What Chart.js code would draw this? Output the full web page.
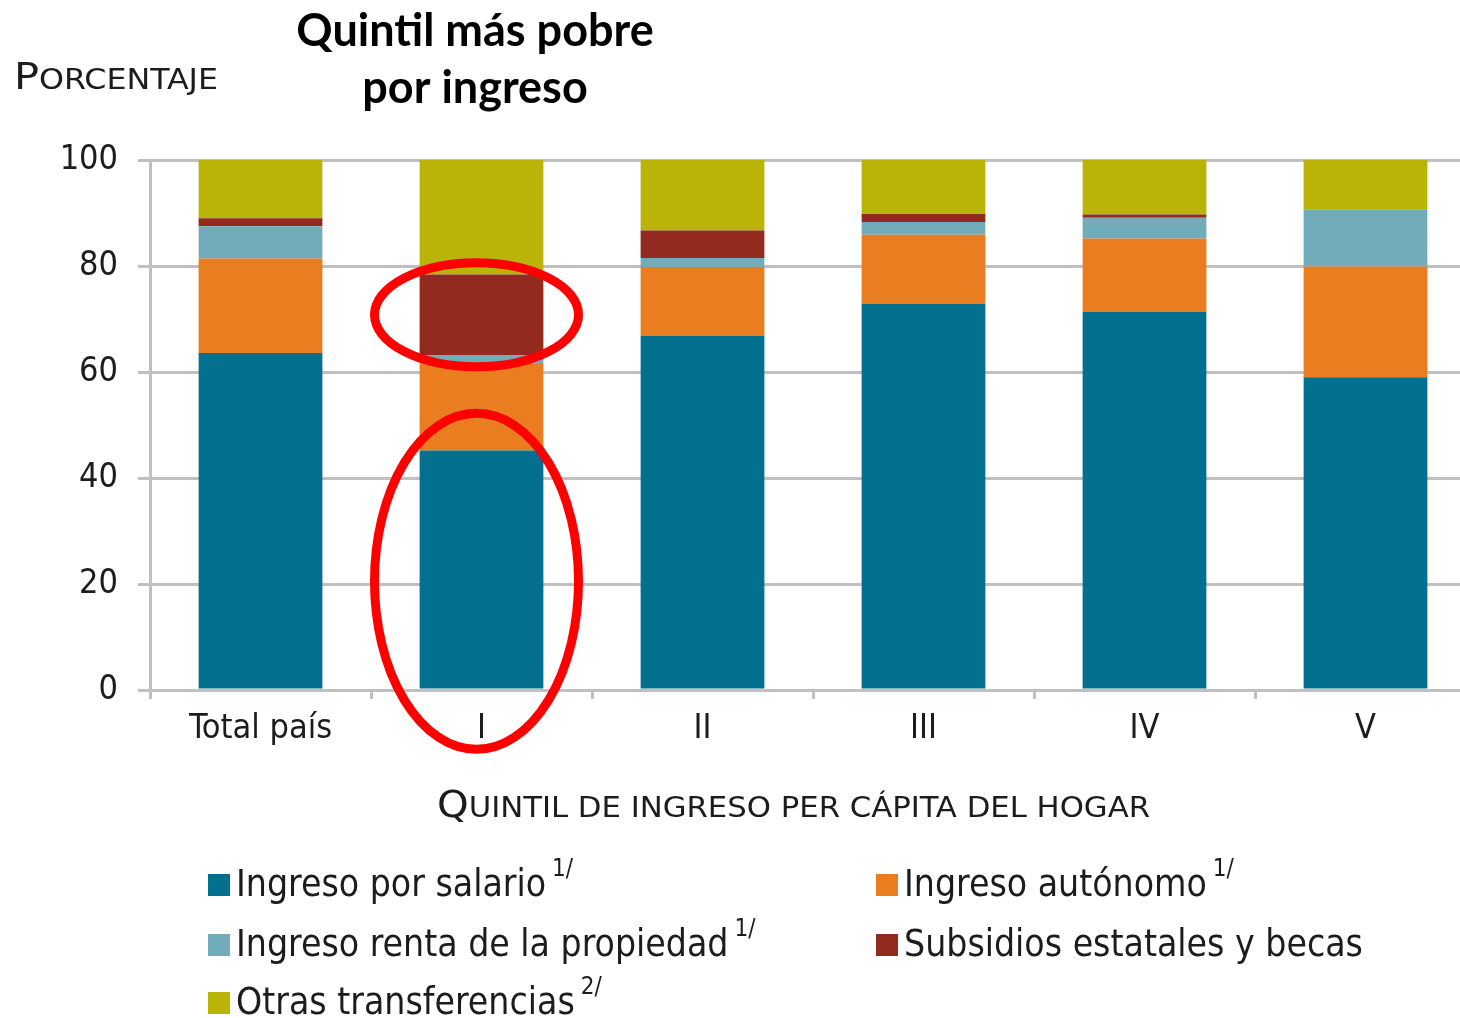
<!DOCTYPE html>
<html><head><meta charset="utf-8">
<script src="https://cdn.jsdelivr.net/npm/chart.js@4"></script>
<style>html,body{margin:0;padding:0;overflow:hidden;background:#fff}#wrap{width:1476px;height:1018px}</style>
</head><body><div id="wrap"><canvas id="c" width="1476" height="1018"></canvas></div>
<script>
const categories = ['Total país', 'I', 'II', 'III', 'IV', 'V'];
const salario   = [63.6, 45.2, 66.8, 72.9, 71.3, 59.0];
const autonomo  = [17.8, 16.3, 13.0, 13.0, 13.9, 20.9];
const renta     = [6.1, 1.6, 1.7, 2.4, 3.9, 10.8];
const subsidios = [1.5, 15.3, 5.2, 1.5, 0.6, 0.0];
const otras     = [11.0, 21.6, 13.3, 10.2, 10.3, 9.3];
const seriesNames = ['Ingreso por salario', 'Ingreso autónomo', 'Ingreso renta de la propiedad', 'Subsidios estatales y becas', 'Otras transferencias'];
const seriesNotes = ['1/', '1/', '1/', '', '2/'];
const seriesColors = ['#03708F', '#E97D1F', '#72ABBA', '#922A1F', '#BAB408'];
const yTicks = [0, 20, 40, 60, 80, 100];
const titleLines = ['Quintil más pobre', 'por ingreso'];
const yTitle = 'PORCENTAJE';
const xTitle = 'QUINTIL DE INGRESO PER CÁPITA DEL HOGAR';

const FONT = '"Liberation Sans Narrow", "DejaVu Sans Condensed", sans-serif';
const TXT = '#1c1c1c';
const GRID = '#c0c0c0';

function smallCaps(ctx, text, x, y, big, small, target) {
  ctx.save();
  ctx.textBaseline = 'alphabetic';
  ctx.textAlign = 'left';
  ctx.font = big + 'px ' + FONT;
  const w1 = ctx.measureText(text[0]).width;
  ctx.font = small + 'px ' + FONT;
  const w2 = ctx.measureText(text.slice(1)).width;
  const s = target ? target / (w1 + w2) : 1;
  ctx.translate(x, y);
  ctx.scale(s, 1);
  ctx.fillStyle = TXT;
  ctx.font = big + 'px ' + FONT;
  ctx.fillText(text[0], 0, 0);
  ctx.font = small + 'px ' + FONT;
  ctx.fillText(text.slice(1), w1, 0);
  ctx.restore();
}

const decor = {
  id: 'decor',
  afterDraw(chart) {
    const ctx = chart.ctx;
    const xs = chart.scales.x, ys = chart.scales.y;
    // title
    ctx.save();
    ctx.fillStyle = '#000';
    ctx.textAlign = 'center';
    ctx.textBaseline = 'alphabetic';
    ctx.font = 'bold 45px Lato, "Open Sans", sans-serif';
    ctx.fillText(titleLines[0], 475, 46);
    ctx.fillText(titleLines[1], 475, 103);
    ctx.restore();
    // y title
    smallCaps(ctx, yTitle, 14, 89, 38, 29, 204);
    // x title
    smallCaps(ctx, xTitle, 437, 817, 38, 29, 713);
    // legend
    const cols = [208, 876], rows = [896, 956, 1014];
    chart.data.datasets.forEach((ds, i) => {
      const bx = cols[i % 2], by = rows[Math.floor(i / 2)];
      ctx.save();
      ctx.fillStyle = ds.backgroundColor;
      ctx.fillRect(bx, by - 22, 22, 22);
      ctx.fillStyle = TXT;
      ctx.font = '37px ' + FONT;
      ctx.textAlign = 'left';
      ctx.textBaseline = 'alphabetic';
      ctx.fillText(ds.label, bx + 28, by);
      const w = ctx.measureText(ds.label).width;
      if (seriesNotes[i]) {
        ctx.font = '24px ' + FONT;
        ctx.fillText(seriesNotes[i], bx + 28 + w + 6, by - 20);
      }
      ctx.restore();
    });
    // red ellipses
    const cx = xs.getPixelForValue(1) - 5;
    ctx.save();
    ctx.strokeStyle = '#FF0000';
    ctx.lineWidth = 9;
    ctx.beginPath();
    ctx.ellipse(cx, ys.getPixelForValue(70.8), 102, 52, 0, 0, Math.PI * 2);
    ctx.stroke();
    ctx.beginPath();
    ctx.ellipse(cx, ys.getPixelForValue(20.5), 102, 168, 0, 0, Math.PI * 2);
    ctx.stroke();
    ctx.restore();
  }
};

const values = [salario, autonomo, renta, subsidios, otras];
new Chart(document.getElementById('c'), {
  type: 'bar',
  data: {
    labels: categories,
    datasets: values.map((v, i) => ({
      label: seriesNames[i],
      data: v,
      backgroundColor: seriesColors[i],
      borderWidth: 0,
      barPercentage: 0.56,
      categoryPercentage: 1
    }))
  },
  options: {
    responsive: false,
    animation: false,
    layout: { padding: { top: 160, left: 0, right: 0, bottom: 0 } },
    plugins: { legend: { display: false }, tooltip: { enabled: false }, title: { display: false } },
    scales: {
      x: {
        stacked: true,
        afterFit(s) { s.height = 328; },
        grid: { drawOnChartArea: false, color: GRID, lineWidth: 3, tickLength: 9, offset: true },
        border: { color: GRID, width: 3 },
        ticks: { color: TXT, font: { family: FONT, size: 34 }, padding: 10 }
      },
      y: {
        stacked: true,
        min: 0, max: 100,
        afterFit(s) { s.width = 150; },
        afterBuildTicks(s) { s.ticks = yTicks.map(v => ({ value: v })); },
        grid: { color: GRID, lineWidth: 3, tickLength: 12 },
        border: { color: GRID, width: 3 },
        ticks: { color: TXT, font: { family: FONT, size: 34 }, padding: 20 }
      }
    }
  },
  plugins: [decor]
});
</script>
</body></html>
